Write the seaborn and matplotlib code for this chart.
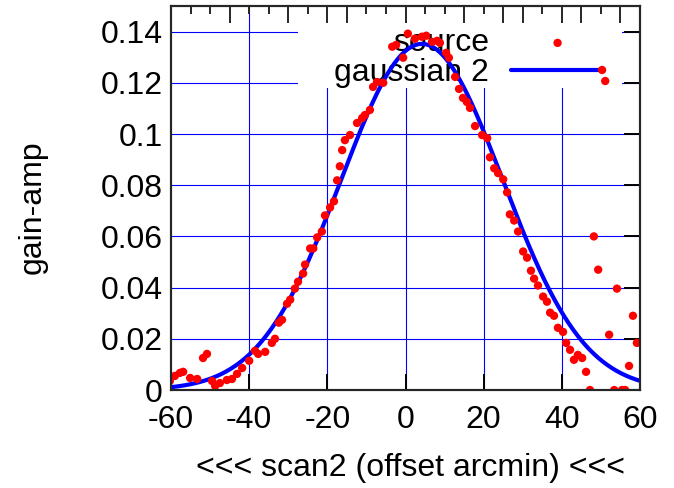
import matplotlib
matplotlib.use("Agg")
import matplotlib.pyplot as plt
import matplotlib.patches as mpatches
import numpy as np
import pandas as pd
import seaborn as sns

# measured beam scan (offset arcmin, gain-amp)
offset = [-60.3, -59.0, -57.7, -56.9, -55.1, -53.3, -51.8, -50.8, -49.5, -48.7,
          -47.5, -45.7, -44.4, -43.1, -41.8, -40.0, -38.5, -37.7, -35.9, -34.2,
          -33.4, -32.4, -31.6, -30.3, -29.5, -28.3, -27.5, -26.2, -25.7, -24.4,
          -23.6, -22.6, -21.4, -20.6, -19.3, -18.3, -17.5, -16.8, -16.2, -15.5,
          -14.2, -12.4, -11.1, -10.4, -9.1, -8.3, -7.3, -5.7, -3.4, -2.4,
          -0.6, 0.6, 2.4, 4.2, 5.3, 6.8, 8.1, 8.8, 10.4, 11.1,
          12.7, 13.7, 14.7, 15.7, 16.5, 17.8, 19.6, 20.9, 21.6, 22.7,
          23.7, 25.0, 26.0, 26.7, 27.8, 28.8, 30.1, 31.1, 32.1, 32.9,
          33.9, 35.2, 36.2, 37.0, 38.0, 39.0, 40.3, 41.1, 42.1, 43.1,
          44.1, 45.2, 46.2, 47.2, 48.2, 49.3, 50.3, 51.1, 52.1, 53.4,
          54.1, 55.4, 56.2, 57.2, 58.2, 59.2]
gain = [0.0035, 0.0055, 0.0067, 0.0071, 0.0047, 0.0043, 0.0125, 0.0141, 0.0035, 0.0016,
        0.0027, 0.0039, 0.0043, 0.0063, 0.0086, 0.0114, 0.0153, 0.0141, 0.0149, 0.0184,
        0.0200, 0.0263, 0.0274, 0.0337, 0.0353, 0.0396, 0.0423, 0.0455, 0.0490, 0.0553,
        0.0553, 0.0596, 0.0619, 0.0682, 0.0713, 0.0737, 0.0819, 0.0874, 0.0937, 0.0976,
        0.0996, 0.1043, 0.1062, 0.1074, 0.1094, 0.1184, 0.1203, 0.1200, 0.1341, 0.1348,
        0.1298, 0.1392, 0.1372, 0.1380, 0.1384, 0.1360, 0.1364, 0.1356, 0.1317, 0.1298,
        0.1223, 0.1176, 0.1141, 0.1125, 0.1102, 0.1031, 0.0996, 0.0984, 0.0909, 0.0866,
        0.0847, 0.0823, 0.0772, 0.0686, 0.0662, 0.0619, 0.0541, 0.0517, 0.0466, 0.0435,
        0.0408, 0.0365, 0.0345, 0.0302, 0.0290, 0.0243, 0.0227, 0.0184, 0.0157, 0.0118,
        0.0137, 0.0125, 0.0071, 0.0, 0.0600, 0.0470, 0.1250, 0.1207, 0.0216, 0.0,
        0.0396, 0.0, 0.0, 0.0094, 0.0290, 0.0184]

# gaussian fit parameters
fit_amp = 0.1352
fit_center = 4.2
fit_sigma = 20.7

xticks = [-60, -40, -20, 0, 20, 40, 60]
xtick_labels = ["-60", "-40", "-20", "0", "20", "40", "60"]
yticks = [0, 0.02, 0.04, 0.06, 0.08, 0.1, 0.12, 0.14]
ytick_labels = ["0", "0.02", "0.04", "0.06", "0.08", "0.1", "0.12", "0.14"]
top_long = [-45, -30, -20, -15, 0, 15, 25, 30, 40, 45, 55]
top_short = [-55, -50, -40, -35, -25, -10, -5, 5, 10, 20, 35, 50]

sns.set_theme(style="white")
plt.rcParams["font.family"] = ["Liberation Sans", "DejaVu Sans"]
plt.rcParams["text.color"] = "black"
plt.rcParams["axes.labelcolor"] = "black"
FS = 23

df = pd.DataFrame({"offset": offset, "gain": gain})
xfit = np.linspace(-60, 60, 400)
fit = pd.DataFrame({"offset": xfit,
                    "gain": fit_amp * np.exp(-(xfit - fit_center) ** 2 / (2 * fit_sigma ** 2))})

fig = plt.figure(figsize=(6.74, 4.88), dpi=100)
ax = fig.add_axes([171 / 674, 98 / 488, 469 / 674, 384 / 488])
ax.set_xlim(-60, 60)
ax.set_ylim(0, 0.15)

# grid
for xv in xticks[1:-1]:
    ax.axvline(xv, color="#0000ff", lw=0.8, zorder=0.3)
for yv in yticks[1:]:
    ax.axhline(yv, color="#0000ff", lw=0.8, zorder=0.3)

# opaque key box
ax.add_patch(mpatches.Rectangle((0.2708, 0.7865), 0.6908, 0.2135, transform=ax.transAxes,
                                facecolor="white", edgecolor="none", zorder=1))

sns.lineplot(data=fit, x="offset", y="gain", color="#0000ff", lw=3, ax=ax,
             zorder=3, label="gaussian 2")
sns.scatterplot(data=df, x="offset", y="gain", color="#ff0000", s=36, edgecolor="none",
                ax=ax, zorder=4, label="source")

ax.set_xticks(xticks)
ax.set_xticklabels(xtick_labels)
ax.set_yticks(yticks)
ax.set_yticklabels(ytick_labels)
ax.tick_params(axis="both", direction="in", length=11.5, width=1.4, colors="black",
               labelsize=FS, right=True, top=False)
ax.tick_params(axis="x", pad=11)
ax.tick_params(axis="y", pad=6)
for sp in ax.spines.values():
    sp.set_linewidth(1.5)
    sp.set_color("black")
    sp.set_zorder(5)

ax.set_xlabel("<<< scan2 (offset arcmin) <<<", fontsize=FS)
ax.set_ylabel("gain-amp", fontsize=FS)
ax.xaxis.set_label_coords(0.51, -0.165)
ax.yaxis.set_label_coords(-0.262, 0.475)

h, l = ax.get_legend_handles_labels()
order = [l.index("source"), l.index("gaussian 2")]
leg = ax.legend([h[i] for i in order], [l[i] for i in order], loc="upper right",
                bbox_to_anchor=(0.923, 0.942), frameon=False, markerfirst=False,
                fontsize=FS, handlelength=2.9, handletextpad=0.7, labelspacing=0.0,
                borderpad=0, borderaxespad=0)
leg.set_zorder(2)

# top axis ticks
ax2 = ax.twiny()
ax2.set_xlim(-60, 60)
ax2.set_xticks(top_long)
ax2.set_xticks(top_short, minor=True)
ax2.tick_params(axis="x", which="major", direction="in", length=12, width=1.4,
                labeltop=False, top=True)
ax2.tick_params(axis="x", which="minor", direction="in", length=6, width=1.4, top=True)
for sp in ax2.spines.values():
    sp.set_linewidth(1.5)

fig.savefig("out.png", dpi=100)
